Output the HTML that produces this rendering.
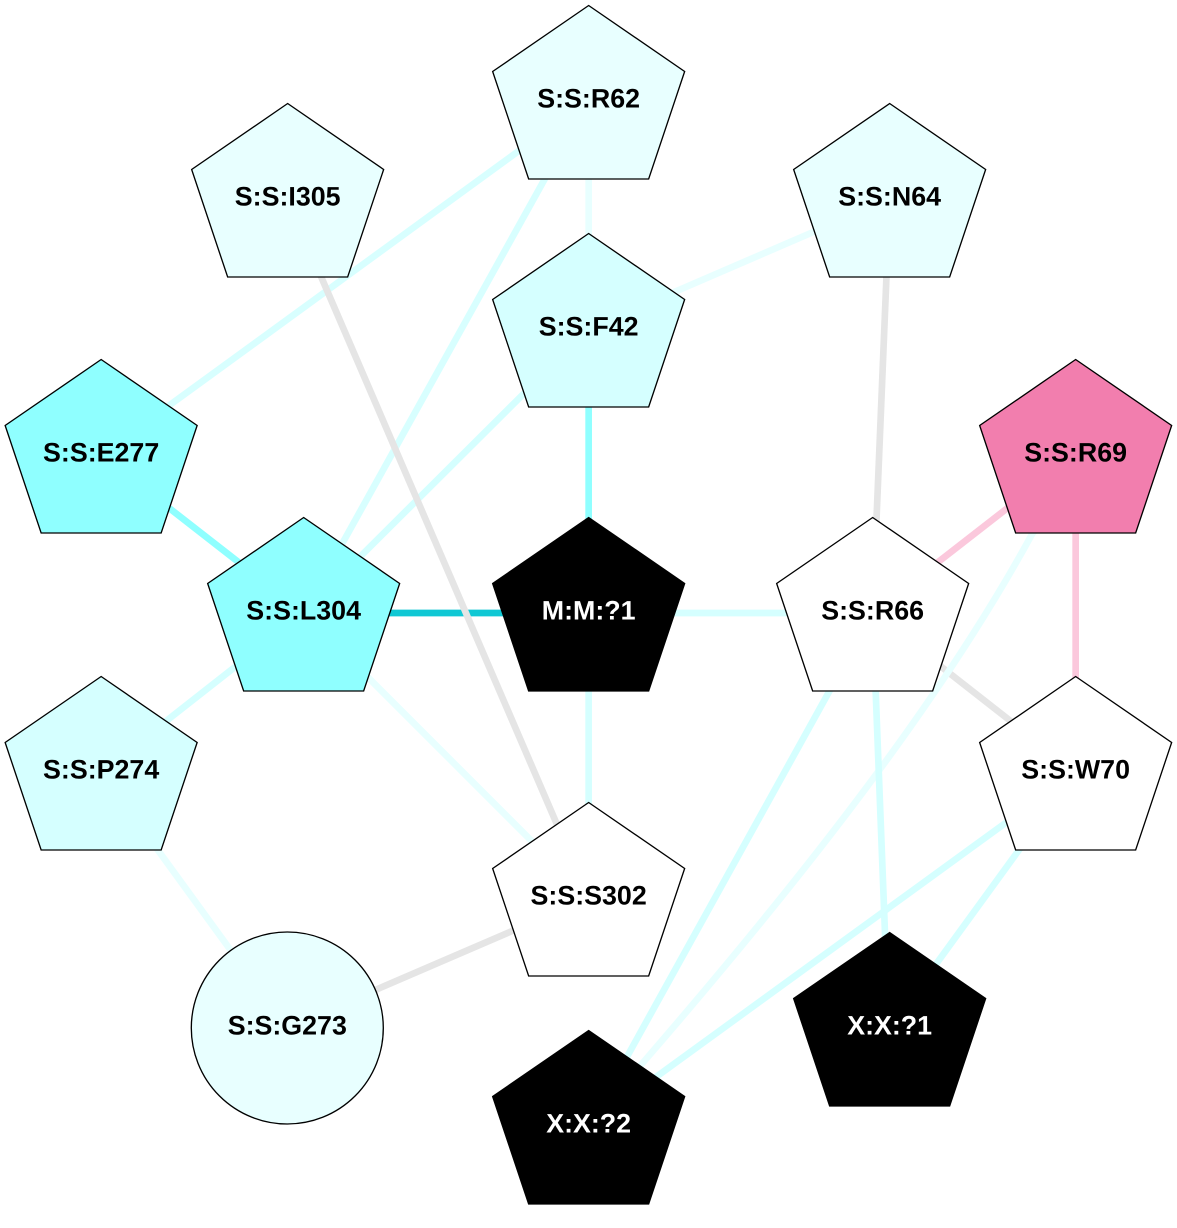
<!DOCTYPE html>
<html>
<head>
<meta charset="utf-8">
<style>
html,body{margin:0;padding:0;background:#fff;}
svg{display:block;}
text{font-family:"Liberation Sans",Arial,sans-serif;font-weight:bold;font-size:26.8px;text-anchor:middle;text-rendering:geometricPrecision;}
.n{stroke:#000;stroke-width:1.33;stroke-linejoin:miter;}
line{stroke-linecap:butt;stroke-width:6.67;}
</style>
</head>
<body>
<svg width="1177" height="1228" viewBox="0 0 1177 1228" xmlns="http://www.w3.org/2000/svg">
<rect width="1177" height="1228" fill="#fff"/>
<g transform="translate(-0.35,0)">
<line x1="589" y1="100" x2="101.5" y2="455" stroke="#d8ffff"/>
<line x1="589" y1="100" x2="304" y2="613" stroke="#d8ffff"/>
<line x1="589" y1="100" x2="589" y2="329" stroke="#e8ffff"/>
<line x1="589" y1="329" x2="890" y2="199" stroke="#e8ffff"/>
<line x1="589" y1="329" x2="304" y2="613" stroke="#d5ffff"/>
<line x1="589" y1="329" x2="589" y2="613" stroke="#8fffff"/>
<line x1="101.5" y1="455" x2="304" y2="613" stroke="#8fffff"/>
<line x1="304" y1="613" x2="589" y2="613" stroke="#10c8d4"/>
<line x1="304" y1="613" x2="101.5" y2="772" stroke="#d5ffff"/>
<line x1="304" y1="613" x2="589" y2="898" stroke="#e8ffff"/>
<line x1="589" y1="613" x2="873" y2="613" stroke="#d5ffff"/>
<line x1="589" y1="613" x2="589" y2="898" stroke="#d5ffff"/>
<line x1="288" y1="199" x2="589" y2="898" stroke="#e5e5e5"/>
<line x1="890" y1="199" x2="873" y2="613" stroke="#e5e5e5"/>
<line x1="873" y1="613" x2="1076" y2="772" stroke="#e5e5e5"/>
<line x1="873" y1="613" x2="1076" y2="455" stroke="#fbc8dc"/>
<line x1="1076" y1="455" x2="1076" y2="772" stroke="#fbc8dc"/>
<path d="M1060,505 L1033,533 C945,695 810,870 643,1063 L600,1113" fill="none" stroke="#e8ffff" stroke-width="6.67"/>
<line x1="873" y1="613" x2="589" y2="1126" stroke="#d5ffff"/>
<line x1="873" y1="613" x2="889" y2="1028" stroke="#d5ffff"/>
<line x1="1076" y1="772" x2="589" y2="1126" stroke="#d5ffff"/>
<line x1="1076" y1="772" x2="890" y2="1028" stroke="#d5ffff"/>
<line x1="101.5" y1="772" x2="287.5" y2="1028" stroke="#e8ffff"/>
<line x1="287.5" y1="1028" x2="589" y2="898" stroke="#e5e5e5"/>
</g>
<g transform="translate(-0.35,0)">
<polygon class="n" fill="#e8ffff" points="589,5.5 685,71.5 649,179 529,179 493,71.5"/>
<text x="589" y="107.5">S:S:R62</text>
<polygon class="n" fill="#e8ffff" points="288,103.5 384,169.5 348,277 228,277 192,169.5"/>
<text x="288" y="205.5">S:S:I305</text>
<polygon class="n" fill="#e8ffff" points="890,103.5 986,169.5 950,277 830,277 794,169.5"/>
<text x="890" y="205.5">S:S:N64</text>
<polygon class="n" fill="#d5ffff" points="589,233.5 685,299.5 649,407 529,407 493,299.5"/>
<text x="589" y="335.5">S:S:F42</text>
<polygon class="n" fill="#8fffff" points="101.5,359.5 197.5,425.5 161.5,533 41.5,533 5.5,425.5"/>
<text x="101.5" y="461.5">S:S:E277</text>
<polygon class="n" fill="#f27eae" points="1076,359.5 1172,425.5 1136,533 1016,533 980,425.5"/>
<text x="1076" y="461.5">S:S:R69</text>
<polygon class="n" fill="#8fffff" points="304,517.5 400,583.5 364,691 244,691 208,583.5"/>
<text x="304" y="619.5">S:S:L304</text>
<polygon class="n" fill="#000" points="589,517.5 685,583.5 649,691 529,691 493,583.5"/>
<text x="589" y="619.5" fill="#fff">M:M:?1</text>
<polygon class="n" fill="#fff" points="873,517.5 969,583.5 933,691 813,691 777,583.5"/>
<text x="873" y="619.5">S:S:R66</text>
<polygon class="n" fill="#d5ffff" points="101.5,676.5 197.5,742.5 161.5,850 41.5,850 5.5,742.5"/>
<text x="101.5" y="778.5">S:S:P274</text>
<polygon class="n" fill="#fff" points="1076,676.5 1172,742.5 1136,850 1016,850 980,742.5"/>
<text x="1076" y="778.5">S:S:W70</text>
<polygon class="n" fill="#fff" points="589,802.5 685,868.5 649,976 529,976 493,868.5"/>
<text x="589" y="904.5">S:S:S302</text>
<circle class="n" fill="#e8ffff" cx="287.65" cy="1028" r="96"/>
<text x="287.65" y="1034.5">S:S:G273</text>
<polygon class="n" fill="#000" points="890,932.5 986,998.5 950,1106 830,1106 794,998.5"/>
<text x="890" y="1034.5" fill="#fff">X:X:?1</text>
<polygon class="n" fill="#000" points="589,1030.5 685,1096.5 649,1204 529,1204 493,1096.5"/>
<text x="589" y="1132.5" fill="#fff">X:X:?2</text>
</g>
</svg>
</body>
</html>
